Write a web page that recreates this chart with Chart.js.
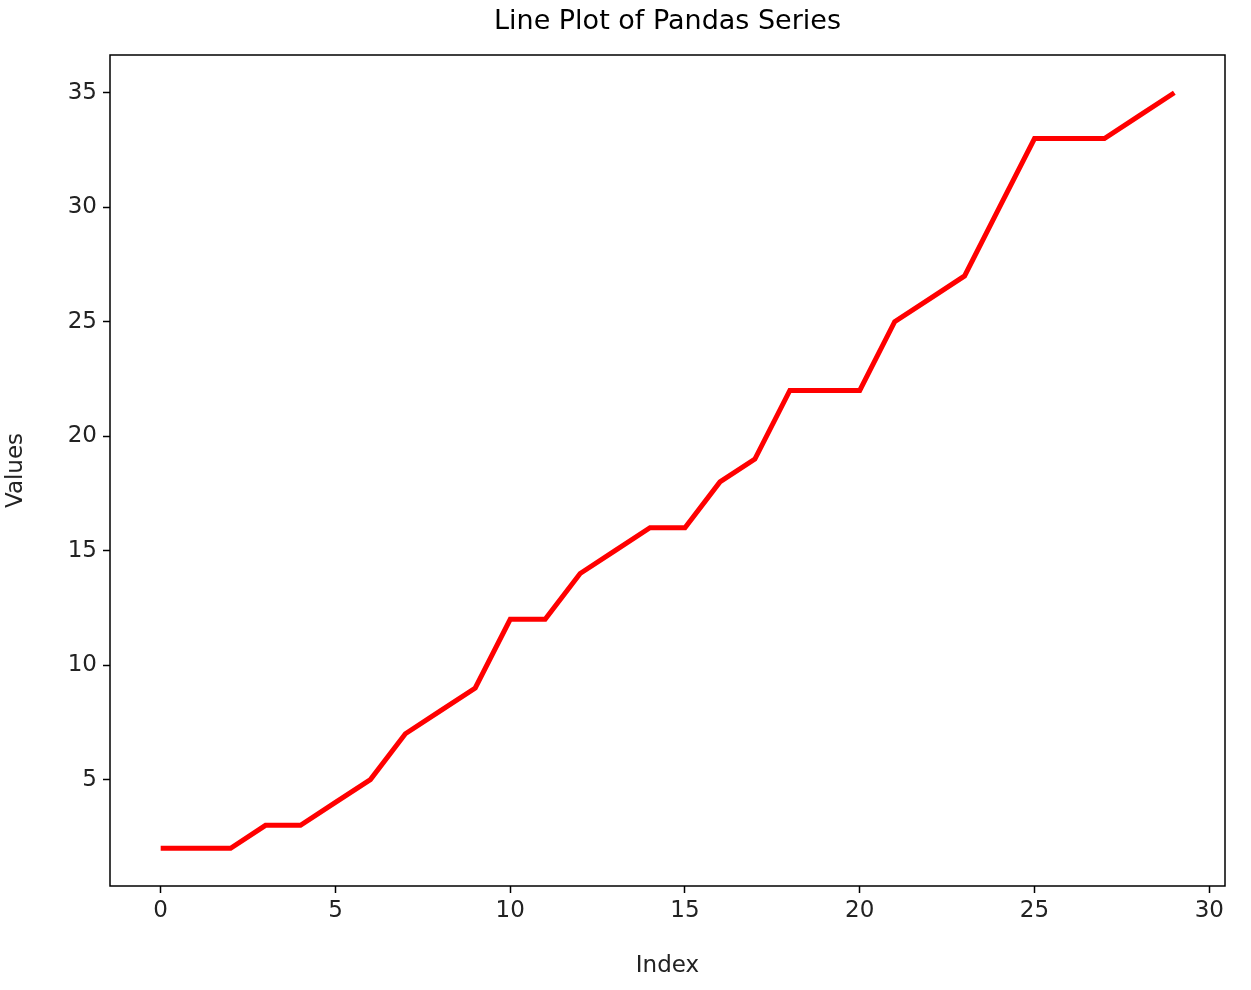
<!DOCTYPE html>
<html>
<head>
<meta charset="utf-8">
<script src="https://cdn.jsdelivr.net/npm/chart.js@4"></script>
<style>
   html, body { margin: 0; padding: 0; background: #fff; }
   #wrap { width: 1251px; height: 990px; }
</style>
</head>
<body>
<div id="wrap"><canvas id="chart"></canvas></div>
<script>
// values, index 0..29
const indexes = [0,1,2,3,4,5,6,7,8,9,10,11,12,13,14,15,16,17,18,19,20,21,22,23,24,25,26,27,28,29]
const values = [2,2,2,3,3,4,5,7,8,9,12,12,14,15,16,16,18,19,22,22,22,25,26,27,30,33,33,33,34,35]

const font = "'DejaVu Sans', sans-serif"

// frame + title like matplotlib
const framePlugin = {
   id: "frame",
   afterDraw(c) {
      const a = c.chartArea
      const ctx = c.ctx
      ctx.save()
      ctx.strokeStyle = "#000"
      ctx.lineWidth = 1.5
      ctx.strokeRect(a.left, a.top, a.right - a.left, a.bottom - a.top)
      ctx.fillStyle = "#000"
      ctx.font = "27px " + font
      ctx.textAlign = "center"
      ctx.textBaseline = "middle"
      ctx.fillText("Line Plot of Pandas Series", (a.left + a.right) / 2, 22)
      ctx.restore()
   }
}

new Chart(document.getElementById("chart"), {
   type: "line",
   data: {
      datasets: [{
         data: indexes.map((x, i) => ({ x: x, y: values[i] })),
         borderColor: "#ff0000",
         borderWidth: 5,
         pointRadius: 0,
         fill: false,
         tension: 0
      }]
   },
   options: {
      responsive: true,
      maintainAspectRatio: false,
      animation: false,
      layout: { padding: { top: 55, right: 26, left: 0, bottom: 0 } },
      plugins: { legend: { display: false }, tooltip: { enabled: false } },
      scales: {
         x: {
            type: "linear",
            min: -1.45,
            max: 30.45,
            afterBuildTicks: s => { s.ticks = [0,5,10,15,20,25,30].map(v => ({ value: v })) },
            afterFit: s => { s.height = 104 },
            grid: { drawOnChartArea: false, tickLength: 7, color: "#000", tickWidth: 1.5 },
            border: { display: false },
            ticks: { color: "#222", font: { family: font, size: 23 }, padding: 4, maxRotation: 0 },
            title: { display: true, text: "Index", color: "#222", font: { family: font, size: 23 }, padding: { top: 2, bottom: 10 } }
         },
         y: {
            min: 0.35,
            max: 36.65,
            afterBuildTicks: s => { s.ticks = [5,10,15,20,25,30,35].map(v => ({ value: v })) },
            afterFit: s => { s.width = 110 },
            grid: { drawOnChartArea: false, tickLength: 7, color: "#000", tickWidth: 1.5 },
            border: { display: false },
            ticks: { color: "#222", font: { family: font, size: 23 }, padding: 6 },
            title: { display: true, text: "Values", color: "#222", font: { family: font, size: 23 }, padding: { top: 2, bottom: 0 } }
         }
      }
   },
   plugins: [framePlugin]
})
</script>
</body>
</html>
